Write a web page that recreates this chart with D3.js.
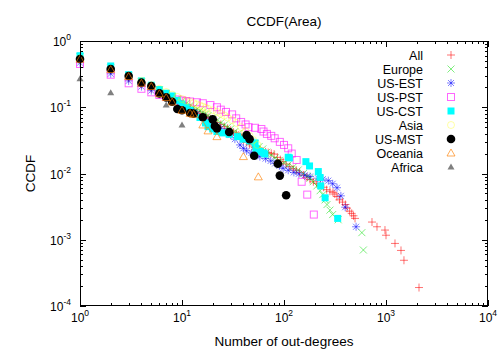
<!DOCTYPE html>
<html><head><meta charset="utf-8">
<script src="https://cdn.jsdelivr.net/npm/d3@7"></script>
<style>body{margin:0;background:#fff}svg{display:block}text{font-family:"Liberation Sans",Arial,Helvetica,sans-serif;fill:#000}</style>
</head><body>
<svg id="c" width="504" height="352"></svg>
<script>
// ---- data ----
const seriesNames = ["All","Europe","US-EST","US-PST","US-CST","Asia","US-MST","Oceania","Africa"];
const xTickValues = [1,10,100,1000,10000];
const xTickExp = ["0","1","2","3","4"];
const yTickValues = [0.0001,0.001,0.01,0.1,1];
const yTickExp = ["-4","-3","-2","-1","0"];

const allX = [1,2,3,4,5,6,7,8,9,10,11,12,13,14,15,16,17,18,19,20,22,24,26,28,30,32,34,36,38,40,43,46,49,52,55,58,62,66,70,75,80,86,92,98,105,114,123,132,142,155,168,180,194,210,226,245,262,282,302,315,330,350,375,400,415,440,461,480,497,729,816,977,1000,1225,1403,1500,2107];
const allY = [0.55,0.36,0.27,0.22,0.19,0.165,0.148,0.134,0.122,0.112,0.104,0.097,0.091,0.086,0.081,0.077,0.073,0.070,0.067,0.064,0.059,0.055,0.051,0.048,0.045,0.042,0.040,0.038,0.036,0.032,0.0295,0.0275,0.026,0.0248,0.0237,0.0227,0.0217,0.0212,0.0207,0.0202,0.0196,0.0175,0.0162,0.0151,0.0139,0.0127,0.0118,0.0112,0.0104,0.0095,0.0088,0.0081,0.0075,0.0071,0.0067,0.0062,0.0057,0.0054,0.0052,0.0049,0.0045,0.0040,0.0037,0.0034,0.0030,0.0027,0.0025,0.0023,0.0021,0.00185,0.00157,0.0014,0.00117,0.00088,0.00069,0.00049,0.00019];

const europeX = [1,2,3,4,5,6,7,8,9,10,11,12,13,14,15,16,17,18,20,22,24,26,28,30,33,36,40,44,48,52,57,62,68,75,82,90,100,110,123,138,155,170,180,193,210,226,240,253,264,282,300,340,580,600];
const europeY = [0.58,0.39,0.30,0.24,0.205,0.18,0.16,0.145,0.133,0.123,0.114,0.106,0.099,0.093,0.088,0.083,0.079,0.075,0.069,0.063,0.058,0.054,0.050,0.047,0.043,0.040,0.036,0.033,0.030,0.028,0.0255,0.0235,0.021,0.019,0.0172,0.0158,0.0145,0.0135,0.0125,0.0113,0.0100,0.0090,0.0085,0.0075,0.0065,0.0055,0.0048,0.0040,0.0034,0.0028,0.0024,0.0020,0.00128,0.0007];

const usEstX = [1,2,3,4,5,6,7,8,9,10,11,12,13,14,16,18,20,22,24,27,30,33,37,40,43,48,53,58,66,74,82,90,98,110,125,140,160,180,215,240,272,300,331,361,398,509];
const usEstY = [0.47,0.32,0.25,0.205,0.178,0.157,0.14,0.126,0.115,0.105,0.097,0.09,0.084,0.079,0.07,0.063,0.057,0.052,0.048,0.043,0.038,0.033,0.027,0.024,0.022,0.0205,0.0192,0.018,0.0168,0.0155,0.0142,0.013,0.012,0.0112,0.0104,0.0099,0.0094,0.009,0.0085,0.0082,0.0078,0.007,0.0061,0.0046,0.0031,0.00157];

const usPstX = [1,2,3,4,5,6,7,8,9,10,11,12,14,16,19,22,24,27,31,34,38,42,45,52,60,63,68,75,81,91,100,110,119,133,149,169,196];
const usPstY = [0.45,0.31,0.23,0.19,0.168,0.153,0.143,0.136,0.131,0.127,0.124,0.122,0.119,0.115,0.108,0.100,0.092,0.085,0.078,0.068,0.060,0.055,0.050,0.049,0.047,0.043,0.0396,0.037,0.034,0.030,0.027,0.024,0.020,0.016,0.0075,0.0048,0.0024];

const usCstX = [1,2,3,4,5,6,7,8,9,10,11,12,13,15,17,18,20,22,25,29,35,40,46,52,53,58,63,65,110,113,164,178,217,226,229,253,336];
const usCstY = [0.6,0.42,0.31,0.25,0.215,0.185,0.163,0.148,0.127,0.112,0.1,0.09,0.08,0.07,0.058,0.051,0.047,0.043,0.041,0.039,0.036,0.033,0.031,0.029,0.024,0.0215,0.0205,0.0197,0.0176,0.0172,0.0151,0.013,0.0107,0.0087,0.0065,0.0043,0.0021];

const asiaX = [1,2,3,4,5,6,7,8,9,10,11,12,13,14,15,16,17,18,20,22,24,26,28,31,34,38,42,46,50,55];
const asiaY = [0.55,0.38,0.3,0.25,0.215,0.19,0.17,0.155,0.143,0.133,0.126,0.12,0.115,0.11,0.106,0.102,0.098,0.095,0.09,0.085,0.08,0.075,0.07,0.064,0.058,0.05,0.043,0.037,0.032,0.027];

const usMstX = [1,2,3,4,5,6,7,8,9,10,12,13,16,20,21,22,29,43,46,51,87,91,105];
const usMstY = [0.535,0.378,0.296,0.235,0.209,0.162,0.141,0.121,0.094,0.090,0.082,0.080,0.0706,0.0657,0.0522,0.048,0.0423,0.038,0.033,0.0185,0.0140,0.0093,0.0047];

const oceaniaX = [1,2,3,4,5,6,7,8,10,12,13,16,18,22,40,56];
const oceaniaY = [0.53,0.37,0.29,0.23,0.205,0.16,0.14,0.12,0.09,0.081,0.078,0.054,0.044,0.036,0.018,0.0089];

const africaX = [1,2,7,10];
const africaY = [0.27,0.165,0.108,0.054];

// ---- styles ----
const styles = [
  {kind:"plus", color:"#ff0000", op:0.55},
  {kind:"cross", color:"#00dd00", op:0.5},
  {kind:"star", color:"#0000ff", op:0.5},
  {kind:"sqOpen", color:"#ff00ff", op:0.6},
  {kind:"sqFill", color:"#00ffff", op:1},
  {kind:"circOpen", color:"#ffff00", op:0.35},
  {kind:"circFill", color:"#000000", op:1},
  {kind:"triOpen", color:"#ff8000", op:0.65},
  {kind:"triFill", color:"#808080", op:1}
];
const seriesData = [[allX,allY],[europeX,europeY],[usEstX,usEstY],[usPstX,usPstY],[usCstX,usCstY],[asiaX,asiaY],[usMstX,usMstY],[oceaniaX,oceaniaY],[africaX,africaY]];

const L=80,R=488,T=41,B=306;
const x = d3.scaleLog().domain([1,10000]).range([L,R]);
const y = d3.scaleLog().domain([0.0001,1]).range([B,T]);
const svg = d3.select("#c");

function drawSym(g, st){
  const kind=st.kind, color=st.color, op=st.op;
  switch(kind){
    case "plus": g.append("path").attr("d","M-4,0H4M0,-4V4").attr("stroke",color).attr("stroke-opacity",op).attr("fill","none"); break;
    case "cross": g.append("path").attr("d","M-3.5,-3.5L3.5,3.5M-3.5,3.5L3.5,-3.5").attr("stroke",color).attr("stroke-opacity",op).attr("fill","none"); break;
    case "star": g.append("path").attr("d","M-4,0H4M0,-4V4M-3,-3L3,3M-3,3L3,-3").attr("stroke",color).attr("stroke-opacity",op).attr("fill","none"); break;
    case "sqOpen": g.append("rect").attr("x",-3.5).attr("y",-3.5).attr("width",7).attr("height",7).attr("stroke",color).attr("stroke-opacity",op).attr("fill","none"); break;
    case "sqFill": g.append("rect").attr("x",-3.5).attr("y",-3.5).attr("width",7).attr("height",7).attr("fill",color); break;
    case "circOpen": g.append("circle").attr("r",3.5).attr("stroke",color).attr("stroke-opacity",op).attr("fill","none"); break;
    case "circFill": g.append("circle").attr("r",4.3).attr("fill",color); break;
    case "triOpen": g.append("path").attr("d","M0,-4L4,3H-4Z").attr("stroke",color).attr("stroke-opacity",op).attr("fill","none"); break;
    case "triFill": g.append("path").attr("d","M0,-3.5L3.5,2.5H-3.5Z").attr("fill",color); break;
  }
}

// points
seriesData.forEach((s,i)=>{
  const pts = s[0].map((v,j)=>({x:v,y:s[1][j]}));
  const g = svg.append("g").attr("class","series-"+i);
  g.selectAll("g").data(pts).enter().append("g")
    .attr("transform",d=>`translate(${x(d.x)},${y(d.y)})`)
    .each(function(){ drawSym(d3.select(this), styles[i]); });
});

// frame & ticks
const ax = svg.append("g").attr("stroke","#000").attr("stroke-width",1).attr("fill","none");
const xMinor=[], yMinor=[];
[1,10,100,1000].forEach(d=>{for(let k=2;k<=9;k++) xMinor.push(d*k);});
[0.0001,0.001,0.01,0.1].forEach(d=>{for(let k=2;k<=9;k++) yMinor.push(d*k);});
xTickValues.forEach(v=>{const p=Math.round(x(v))+0.5;
  ax.append("line").attr("x1",p).attr("x2",p).attr("y1",B).attr("y2",B-6);
  ax.append("line").attr("x1",p).attr("x2",p).attr("y1",T).attr("y2",T+6);});
xMinor.forEach(v=>{const p=Math.round(x(v))+0.5;
  ax.append("line").attr("x1",p).attr("x2",p).attr("y1",B).attr("y2",B-3);
  ax.append("line").attr("x1",p).attr("x2",p).attr("y1",T).attr("y2",T+3);});
yTickValues.forEach(v=>{const p=Math.round(y(v))+0.5;
  ax.append("line").attr("x1",L).attr("x2",L+6).attr("y1",p).attr("y2",p);
  ax.append("line").attr("x1",R).attr("x2",R-6).attr("y1",p).attr("y2",p);});
yMinor.forEach(v=>{const p=Math.round(y(v))+0.5;
  ax.append("line").attr("x1",L).attr("x2",L+3).attr("y1",p).attr("y2",p);
  ax.append("line").attr("x1",R).attr("x2",R-3).attr("y1",p).attr("y2",p);});
ax.append("rect").attr("x",L+0.5).attr("y",T+0.5).attr("width",R-L-1).attr("height",B-T-1);

// tick labels
xTickValues.forEach((v,i)=>{
  const t = svg.append("text").attr("x",x(v)).attr("y",B+16).attr("text-anchor","middle").attr("font-size",12);
  t.append("tspan").text("10");
  t.append("tspan").attr("dy",-6).attr("font-size",8.5).text(xTickExp[i]);
});
yTickValues.forEach((v,i)=>{
  const t = svg.append("text").attr("x",71).attr("y",y(v)+5).attr("text-anchor","end").attr("font-size",12);
  t.append("tspan").text("10");
  t.append("tspan").attr("dy",-6).attr("font-size",8.5).text(yTickExp[i]);
});

// titles
svg.append("text").attr("x",(L+R)/2).attr("y",25.5).attr("text-anchor","middle").attr("font-size",13.5).text("CCDF(Area)");
svg.append("text").attr("x",(L+R)/2).attr("y",346).attr("text-anchor","middle").attr("font-size",13.5).text("Number of out-degrees");
svg.append("text").attr("transform",`translate(35,${(T+B)/2}) rotate(-90)`).attr("text-anchor","middle").attr("font-size",13.5).text("CCDF");

// legend
seriesNames.forEach((n,i)=>{
  const cy = 55 + i*14;
  svg.append("text").attr("x",423).attr("y",cy+4.5).attr("text-anchor","end").attr("font-size",12.5).text(n);
  const g = svg.append("g").attr("transform",`translate(451,${cy})`);
  drawSym(g, styles[i]);
});
</script>
</body></html>
